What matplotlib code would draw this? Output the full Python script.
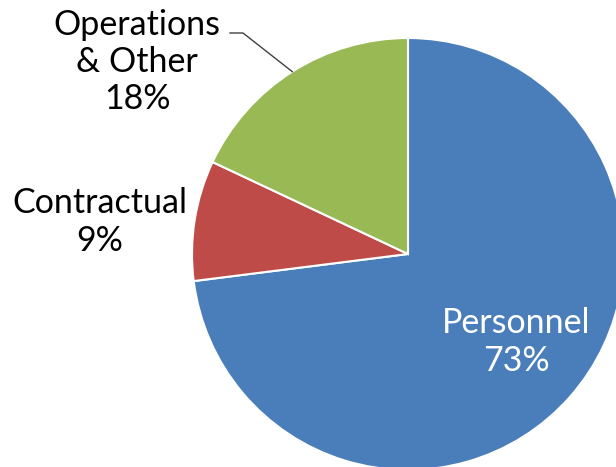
#!/usr/bin/env python

"""
Budget split pie chart: personnel, contractual, operations.
"""

import numpy as np
import matplotlib.pyplot as plt

categories = ["Personnel", "Contractual", "Operations\n& Other"]
shares = [73, 9, 18]
colors = ["#4a7ebb", "#be4b48", "#98b954"]


def main():
    plt.rcParams['font.family'] = ['Lato', 'DejaVu Sans']

    fig = plt.figure(figsize=(6.16, 4.67), dpi=100)
    ax = fig.add_axes([0, 0, 1, 1])

    # pie centre / radius in pixel units (y measured upward)
    cx, cy, r = 408, 467 - 254, 216
    wedges, _ = ax.pie(shares, colors=colors, startangle=90, counterclock=False,
                       center=(cx, cy), radius=r,
                       wedgeprops=dict(edgecolor='white', linewidth=1.5))

    ax.set_xlim(0, 616)
    ax.set_ylim(0, 467)
    ax.set_aspect('equal')
    ax.axis('off')

    labels = [f"{c}\n{s}%" for c, s in zip(categories, shares)]
    fs = 24.5
    kw = dict(ha='center', va='center', fontsize=fs, linespacing=1.2)
    ax.text(516, 467 - 342, labels[0], color='white', **kw)
    ax.text(100, 467 - 222, labels[1], color='black', **kw)
    ax.text(137, 467 - 62, labels[2], color='black', **kw)

    # leader line to the operations wedge
    w = wedges[2]
    mid = np.deg2rad((w.theta1 + w.theta2) / 2)
    ex, ey = cx + r * np.cos(mid), cy + r * np.sin(mid)
    ax.plot([230, 243, ex], [467 - 33, 467 - 33, ey], color='#404040', linewidth=1)

    plt.savefig("out.png", dpi=100)


if __name__ == "__main__":
    main()
